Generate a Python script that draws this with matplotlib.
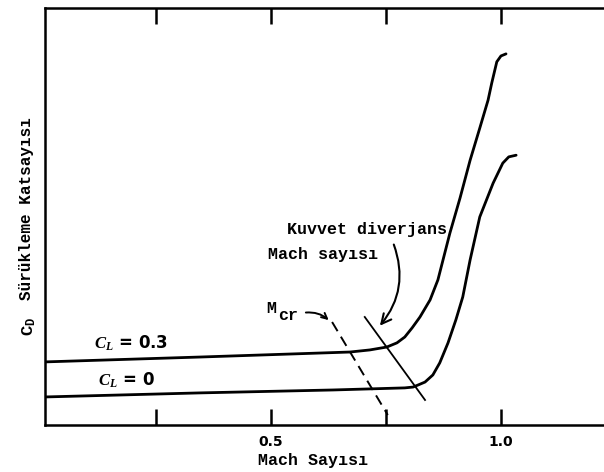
import matplotlib
matplotlib.use("Agg")
import matplotlib.pyplot as plt
from matplotlib.patches import FancyArrowPatch

plt.rcParams.update({
    "font.family": "DejaVu Sans",
    "mathtext.fontset": "custom",
    "mathtext.rm": "DejaVu Sans",
    "mathtext.it": "Liberation Serif:italic:bold",
    "mathtext.tt": "Liberation Mono:bold",
})

# drag curves, C_D (arbitrary scale) against Mach number
mach_cl03 = [0.0, 0.346, 0.672, 0.715, 0.752, 0.774, 0.791, 0.807, 0.824, 0.846,
             0.863, 0.889, 0.911, 0.933, 0.954, 0.972, 0.980, 0.991, 1.000, 1.011]
cd_cl03 = [0.151, 0.163, 0.175, 0.180, 0.187, 0.197, 0.211, 0.233, 0.259, 0.300,
           0.348, 0.460, 0.544, 0.635, 0.712, 0.779, 0.820, 0.871, 0.885, 0.890]

mach_cl0 = [0.0, 0.346, 0.635, 0.791, 0.809, 0.820, 0.835, 0.852, 0.867, 0.885,
            0.902, 0.917, 0.933, 0.954, 0.983, 1.004, 1.017, 1.033]
cd_cl0 = [0.067, 0.077, 0.084, 0.089, 0.091, 0.096, 0.103, 0.120, 0.149, 0.197,
          0.252, 0.307, 0.396, 0.499, 0.580, 0.628, 0.643, 0.647]

# critical Mach (dashed) and drag-divergence Mach (solid) markers
mcr_x = [0.633, 0.754]
mcr_y = [0.247, 0.024]
mdd_x = [0.704, 0.835]
mdd_y = [0.259, 0.060]

xticks = [0.25, 0.5, 0.75, 1.0]
xticklabels = ["", "0.5", "", "1.0"]

MONO = "Liberation Mono"

fig = plt.figure(figsize=(6.04, 4.72), dpi=100)
ax = fig.add_axes([45 / 604, 47 / 472, 559 / 604, 417 / 472])

ax.plot(mach_cl03, cd_cl03, color="black", lw=2.0, solid_capstyle="round",
        solid_joinstyle="round")
ax.plot(mach_cl0, cd_cl0, color="black", lw=2.0, solid_capstyle="round",
        solid_joinstyle="round")
ax.plot(mdd_x, mdd_y, color="black", lw=1.3)
ax.plot(mcr_x, mcr_y, color="black", lw=1.4, ls=(0, (5.5, 3.3)))

ax.set_xlim(0.009, 1.224)
ax.set_ylim(0, 1)
ax.set_xticks(xticks)
ax.set_xticklabels(xticklabels, fontsize=10, fontweight="bold")
ax.set_yticks([])
ax.tick_params(axis="x", direction="in", top=True, length=11.5, width=1.8, pad=7.5)

for side in ["left", "bottom", "top"]:
    ax.spines[side].set_linewidth(1.8)
ax.spines["right"].set_visible(False)

ax.set_xlabel("Mach Sayısı", family=MONO, fontweight="bold", fontsize=12)
ax.xaxis.set_label_coords(0.480, -0.086)
ax.xaxis.label.set_va("center")

fig.text(27 / 604, 1 - 209 / 472, "Sürükleme Katsayısı", rotation=90,
         family=MONO, fontweight="bold", fontsize=11.5, ha="center", va="center")
fig.text(29 / 604, 1 - 326 / 472, r"$\mathtt{C}_{\mathtt{D}}$", rotation=90,
         fontsize=12.5, ha="center", va="center")

# curve labels
ax.text(0.115, 0.197, r"$C_L$ = 0.3", fontsize=12, fontweight="bold",
        ha="left", va="center")
ax.text(0.124, 0.108, r"$C_L$ = 0", fontsize=12, fontweight="bold",
        ha="left", va="center")

# annotations
ax.text(0.535, 0.468, "Kuvvet diverjans", family=MONO, fontweight="bold",
        fontsize=12, ha="left", va="center")
ax.text(0.493, 0.410, "Mach sayısı", family=MONO, fontweight="bold",
        fontsize=12, ha="left", va="center")
ax.text(0.489, 0.280, "M", family=MONO, fontweight="bold", fontsize=12,
        ha="left", va="center")
ax.text(0.515, 0.262, "cr", family=MONO, fontweight="bold", fontsize=12,
        ha="left", va="center")

ax.add_patch(FancyArrowPatch((0.765, 0.439), (0.733, 0.233),
                             connectionstyle="arc3,rad=-0.3",
                             arrowstyle="->,head_length=7,head_width=3.5",
                             color="black", lw=1.5))
ax.add_patch(FancyArrowPatch((0.570, 0.269), (0.630, 0.247),
                             connectionstyle="arc3,rad=-0.25",
                             arrowstyle="->,head_length=4,head_width=2",
                             color="black", lw=1.4))

fig.savefig("out.png", dpi=100)
